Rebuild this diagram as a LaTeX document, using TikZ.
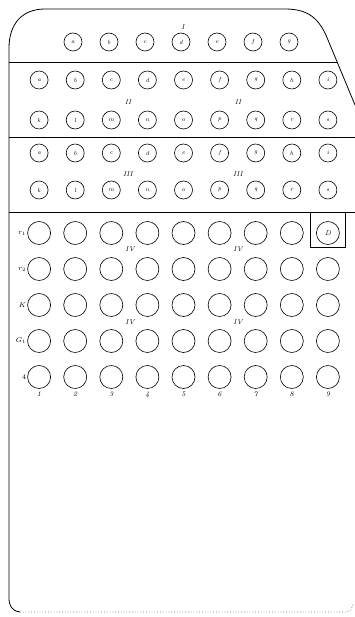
\documentclass[tikz,border=0pt]{standalone}
\usetikzlibrary{positioning}
\begin{document}
\begin{tikzpicture}[x=1pt,y=-1pt,
	hole/.style={circle,draw,line width=0.6pt,minimum size=18pt,inner sep=0pt,
		font=\fontsize{6}{7}\selectfont\itshape},
	bighole/.style={circle,draw,line width=0.6pt,minimum size=23pt,inner sep=0pt,
		font=\fontsize{6}{7}\selectfont\itshape},
	tag/.style={inner sep=0pt,font=\fontsize{7}{8}\selectfont\itshape}]
	\useasboundingbox (0,0) rectangle (355,617);

	% card outline
	\draw
		[line width=0.8pt] (355,105) -- (328,40) .. controls (320,20) and (310,9) .. (285,9)
		-- (45,9) .. controls (22,9) and (9,24) .. (9,48)
		-- (9,598) .. controls (9,606) and (12,611) .. (20,612);

	\draw
		[gray, dotted, line width=0.8pt] (20,612) -- (345,612) .. controls (350,612) and (352,609) .. (353,604);

	\draw
		[line width=0.7pt] (9,62) -- (337,62);

	\draw
		[line width=0.7pt] (9,137) -- (355,137);

	\draw
		[line width=0.7pt] (9,212) -- (355,212);

	% section I
	\node [tag] (secI) at (183,27) {I};
	\foreach \l [count=\i] in {a,b,c,d,e,f,g}
		\node [hole] (t\i) at ({37+36*\i},42) {\l};

	% sections II and III
	\foreach \l [count=\i] in {a,b,c,d,e,f,g,h,i}
	{
		\node [hole] (a\i) at ({3+36.1*\i},80) {\l};
		\node [hole] (c\i) at ({3+36.1*\i},153) {\l};
	}
	\foreach \l [count=\i] in {k,l,m,n,o,p,q,r,s}
	{
		\node [hole] (b\i) at ({3+36.1*\i},120) {\l};
		\node [hole] (d\i) at ({3+36.1*\i},190) {\l};
	}

	\node [tag] (secIIa) at (128,102) {II};
	\node [tag] (secIIb) at (238,102) {II};
	\node [tag] (secIIIa) at (128,174) {III};
	\node [tag] (secIIIb) at (238,174) {III};

	% section IV
	\foreach \y [count=\j] in {233,269,305,341,377}
		\foreach \i in {1,...,9}
			\node [bighole] (r\j c\i) at ({3+36.1*\i},\y) {};

	\node [tag] at (r1c9) {D};
	\draw
		[line width=0.6pt] (310,212) rectangle (345,247);

	\node [tag, left=1pt of r1c1] (lr1) {$r_1$};
	\node [tag, left=1pt of r2c1] (lr2) {$r_2$};
	\node [tag, left=1pt of r3c1] (lk) {$K$};
	\node [tag, left=1pt of r4c1] (lg) {$G_1$};
	\node [tag, left=1pt of r5c1] (l4) {$4$};

	\foreach \i in {1,...,9}
		\node [tag, below=3pt of r5c\i] (n\i) {\i};

	\node [tag] (secIVa) at (130,249) {IV};
	\node [tag] (secIVb) at (238,249) {IV};
	\node [tag] (secIVc) at (130,322) {IV};
	\node [tag] (secIVd) at (238,322) {IV};

\end{tikzpicture}
\end{document}
